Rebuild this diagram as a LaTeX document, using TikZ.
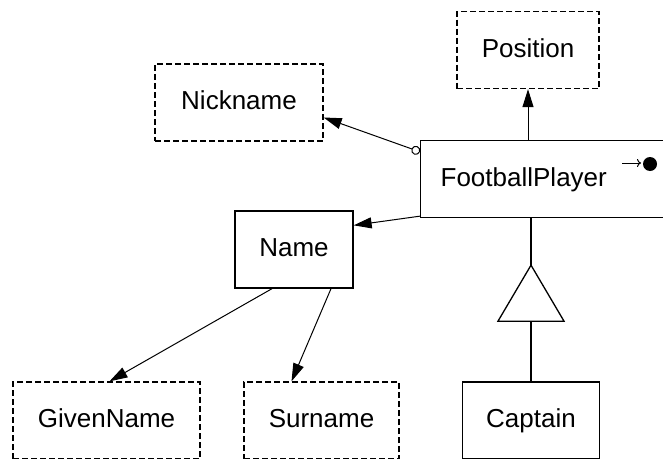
\documentclass[tikz,border=0pt]{standalone}
\usepackage{fontspec}
\setmainfont{Liberation Sans}
\usetikzlibrary{arrows.meta}

\begin{document}
\begin{tikzpicture}[x=1pt,y=-1pt,
  ent/.style={draw,line width=1.3pt,minimum height=77pt,inner sep=0pt,text height=19pt,text depth=5pt,font=\fontsize{26}{30}\selectfont},
  val/.style={ent,dash pattern=on 6pt off 3pt},
  link/.style={line width=1pt,-{Triangle[length=18pt,width=11pt]}}]
              \clip (0,0) rectangle (663,458);
              \node[val,minimum width=142pt](pos)at(528,50){Position};
              \node[val,minimum width=168pt](nick)at(239,102.5){Nickname};
              \node[ent,anchor=west,inner xsep=20pt,text width=230pt,align=left](fp)at(420,179){FootballPlayer};
              \node[ent,minimum width=118pt](name)at(294,249.5){Name};
              \node[val,minimum width=187pt](given)at(106.5,420.5){GivenName};
              \node[val,minimum width=155pt](sur)at(321.5,420.5){Surname};
              \node[ent,minimum width=137pt](cap)at(531,420.5){Captain};
              \draw[link] (pos.south |- fp.north) -- (pos.south);
              \draw[line width=1pt,{Circle[open,length=9pt,width=9pt]}-{Triangle[length=18pt,width=11pt]}] ([yshift=-12pt]fp.north west) -- ([yshift=-15pt]nick.east);
              \draw[link] ([yshift=2pt]fp.south west) -- ([yshift=-15pt]name.north east);
              \draw[link] ([xshift=-22pt]name.south) -- ([xshift=3pt]given.north);
              \draw[link] ([xshift=37pt]name.south) -- ([xshift=-30pt]sur.north);
              \coordinate (apex) at ([yshift=-47pt]cap.north |- fp.south);
              \draw[line width=1.3pt] (cap.north |- fp.south) -- (apex);
              \draw[line width=1.3pt] (apex) -- ++(-33,56) -- ++(66,0) -- cycle;
              \draw[line width=1.3pt] ([yshift=-56pt]apex) -- (cap.north);
              \draw[line width=1pt,-{To[length=4pt,width=8pt]}] (622,163) -- (641,163);
              \fill (650,164) circle (7pt);
            \end{tikzpicture}
\end{document}
